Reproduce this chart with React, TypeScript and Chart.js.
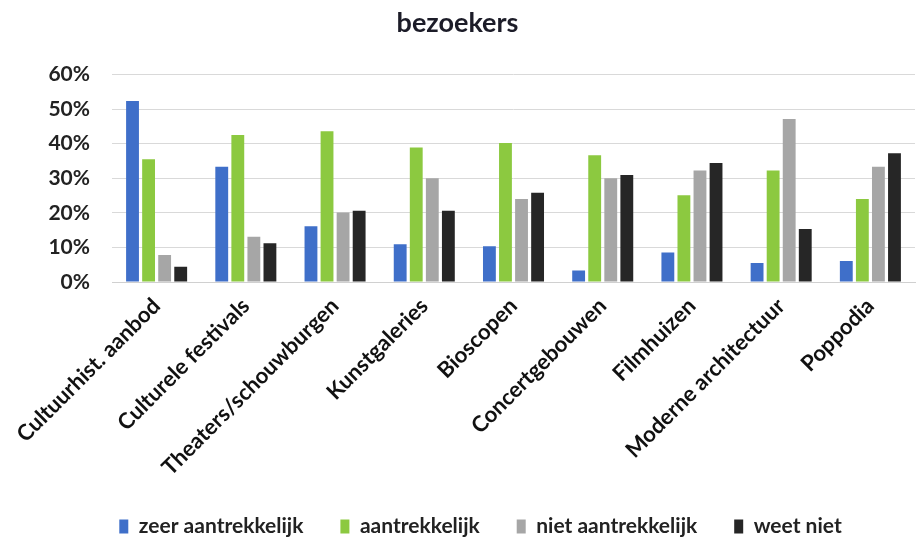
import React, { useEffect, useRef } from 'react';
import { Chart, registerables } from 'chart.js';

Chart.register(...registerables);

const categories = [
  'Cultuurhist. aanbod',
  'Culturele festivals',
  'Theaters/schouwburgen',
  'Kunstgaleries',
  'Bioscopen',
  'Concertgebouwen',
  'Filmhuizen',
  'Moderne architectuur',
  'Poppodia',
];

const seriesNames = ['zeer aantrekkelijk', 'aantrekkelijk', 'niet aantrekkelijk', 'weet niet'];
const zeerAantrekkelijk = [52.3, 33.3, 16.1, 10.9, 10.3, 3.3, 8.5, 5.5, 6.1];
const aantrekkelijk = [35.5, 42.5, 43.6, 38.9, 40.2, 36.6, 25.1, 32.2, 24.0];
const nietAantrekkelijk = [7.8, 13.1, 20.1, 30.0, 24.0, 30.0, 32.2, 47.1, 33.3];
const weetNiet = [4.4, 11.2, 20.6, 20.6, 25.8, 30.9, 34.4, 15.3, 37.2];
const seriesColors = ['#3f6fc9', '#8cc940', '#a6a6a6', '#262626'];

const yMin = 0;
const yMax = 60;
const yStep = 10;

const FONT = 'Lato, "Open Sans", sans-serif';

const legendShift = {
  id: 'legendShift',
  afterLayout(chart: any) {
    if (chart.legend) {
      chart.legend.left += 23;
      chart.legend.right += 23;
    }
  },
};

export default function App() {
  const canvasRef = useRef<HTMLCanvasElement | null>(null);

  useEffect(() => {
    document.body.style.margin = '0';
    const canvas = canvasRef.current;
    if (!canvas) return;
    const values = [zeerAantrekkelijk, aantrekkelijk, nietAantrekkelijk, weetNiet];
    const chart = new Chart(canvas, {
      type: 'bar',
      data: {
        labels: categories,
        datasets: seriesNames.map((name, i) => ({
          label: name,
          data: values[i],
          backgroundColor: seriesColors[i],
          borderWidth: 0,
          categoryPercentage: 0.72,
          barPercentage: 0.8,
        })),
      },
      plugins: [legendShift],
      options: {
        animation: false,
        responsive: false,
        devicePixelRatio: 1,
        layout: { padding: { left: 0, right: 2, top: 0, bottom: 0 } },
        plugins: {
          title: {
            display: true,
            text: 'bezoekers',
            color: '#1c1c28',
            font: { family: FONT, size: 27, weight: 'bold', lineHeight: 1.2 },
            padding: { top: 7, bottom: 35 },
          },
          legend: {
            position: 'bottom',
            maxHeight: 60,
            labels: {
              color: '#222222',
              font: { family: FONT, size: 21, weight: 'bold' },
              boxWidth: 9,
              boxHeight: 14,
              padding: 37,
            },
          },
          tooltip: { enabled: false },
        },
        scales: {
          x: {
            grid: { display: false, drawTicks: false },
            border: { display: true, color: '#d0d0d0', width: 1 },
            ticks: {
              color: '#111111',
              font: { family: FONT, size: 22, weight: 'bold' },
              minRotation: 45,
              maxRotation: 45,
              padding: 11,
              autoSkip: false,
            },
            afterFit: (scale: any) => {
              scale.height = 197;
            },
          },
          y: {
            min: yMin,
            max: yMax,
            grid: { color: '#d9d9d9', drawTicks: false, lineWidth: 1 },
            border: { display: false },
            ticks: {
              stepSize: yStep,
              color: '#222222',
              font: { family: FONT, size: 21, weight: 'bold' },
              padding: 22,
              callback: (v: any) => `${v}%`,
            },
            afterFit: (scale: any) => {
              scale.width = 112;
            },
          },
        },
      },
    });
    return () => chart.destroy();
  }, []);

  return (
    <div style={{ width: 917, height: 539, background: '#ffffff' }}>
      <canvas ref={canvasRef} width={917} height={539} />
    </div>
  );
}
